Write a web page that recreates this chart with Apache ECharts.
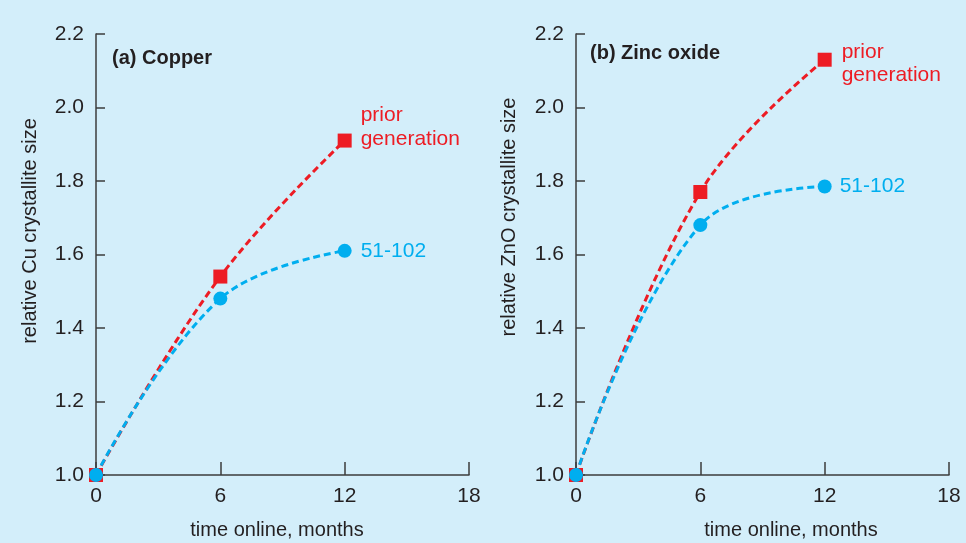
<!DOCTYPE html>
<html>
<head>
<meta charset="utf-8">
<script src="https://cdn.jsdelivr.net/npm/echarts@6/dist/echarts.min.js"></script>
<style>
html,body{margin:0;padding:0;background:#d3eefa;}
#chart{width:966px;height:543px;}
</style>
</head>
<body>
<div id="chart"></div>
<script>
const months = [0, 6, 12];
const cuPrior = [1.0, 1.54, 1.91];
const cu51 = [1.0, 1.48, 1.61];
const znoPrior = [1.0, 1.77, 2.13];
const zno51 = [1.0, 1.68, 1.785];
const xTicks = [0, 6, 12, 18];
const yTicks = [1.0, 1.2, 1.4, 1.6, 1.8, 2.0, 2.2];
const panelTitles = ['(a) Copper', '(b) Zinc oxide'];
const yNames = ['relative Cu crystallite size', 'relative ZnO crystallite size'];
const xName = 'time online, months';
const priorName = 'prior\ngeneration';
const newName = '51-102';

const RED = '#ed1c24', BLUE = '#00aeef', INK = '#231f20', AX = '#3c3c3c';
const FONT = 'Liberation Sans, Arial, sans-serif';

function mkData(xs, ys, label) {
  return xs.map((x, i) => {
    const d = { value: [x, ys[i]] };
    if (i === xs.length - 1) d.label = Object.assign({ show: true }, label);
    return d;
  });
}

function xAxis(gi) {
  return {
    type: 'value', gridIndex: gi, min: xTicks[0], max: xTicks[xTicks.length - 1], interval: 6,
    axisLine: { show: true, lineStyle: { color: AX, width: 1.5 } },
    axisTick: { show: true, inside: true, length: 13, lineStyle: { color: AX, width: 1.5 } },
    axisLabel: { color: INK, fontSize: 21, fontFamily: FONT, margin: 11 },
    splitLine: { show: false }
  };
}
function yAxis(gi) {
  return {
    type: 'value', gridIndex: gi, min: yTicks[0], max: yTicks[yTicks.length - 1], interval: 0.2,
    axisLine: { show: true, lineStyle: { color: AX, width: 1.5 } },
    axisTick: { show: true, inside: true, length: 9, lineStyle: { color: AX, width: 1.5 } },
    axisLabel: { color: INK, fontSize: 21, fontFamily: FONT, margin: 12, formatter: v => v.toFixed(1) },
    splitLine: { show: false }
  };
}
function lineSeries(gi, data, color, symbol, label) {
  return {
    type: 'line', xAxisIndex: gi, yAxisIndex: gi, smooth: 0.4,
    symbol: symbol, symbolSize: 14, showAllSymbol: true,
    itemStyle: { color: color },
    lineStyle: { color: color, width: 3, type: [7, 4] },
    data: mkData(months, data, label),
    z: symbol === 'circle' ? 3 : 2,
    animation: false
  };
}
const lblBase = { position: 'right', fontSize: 21, fontFamily: FONT, lineHeight: 24 };

const chart = echarts.init(document.getElementById('chart'));
chart.setOption({
  backgroundColor: '#d3eefa',
  animation: false,
  grid: [
    { left: 96, top: 34, width: 373, bottom: 68 },
    { left: 576, top: 34, width: 373, bottom: 68 }
  ],
  xAxis: [xAxis(0), xAxis(1)],
  yAxis: [yAxis(0), yAxis(1)],
  series: [
    lineSeries(0, cuPrior, RED, 'rect', Object.assign({}, lblBase, { color: RED, formatter: priorName, distance: 9, offset: [0, -13] })),
    lineSeries(0, cu51, BLUE, 'circle', Object.assign({}, lblBase, { color: BLUE, formatter: newName, distance: 9 })),
    lineSeries(1, znoPrior, RED, 'rect', Object.assign({}, lblBase, { color: RED, formatter: priorName, distance: 10, lineHeight: 23, offset: [0, 4] })),
    lineSeries(1, zno51, BLUE, 'circle', Object.assign({}, lblBase, { color: BLUE, formatter: newName, distance: 8 }))
  ],
  graphic: [
    { type: 'text', left: 112, top: 48, style: { text: panelTitles[0], font: 'bold 20px ' + FONT, fill: INK } },
    { type: 'text', left: 590, top: 43, style: { text: panelTitles[1], font: 'bold 20px ' + FONT, fill: INK } },
    { type: 'text', x: 30, y: 231, rotation: Math.PI / 2, style: { text: yNames[0], font: '20px ' + FONT, fill: INK, align: 'center', verticalAlign: 'middle' } },
    { type: 'text', x: 509, y: 217, rotation: Math.PI / 2, style: { text: yNames[1], font: '20px ' + FONT, fill: INK, align: 'center', verticalAlign: 'middle' } },
    { type: 'text', x: 277, y: 530, style: { text: xName, font: '20px ' + FONT, fill: INK, align: 'center', verticalAlign: 'middle' } },
    { type: 'text', x: 791, y: 530, style: { text: xName, font: '20px ' + FONT, fill: INK, align: 'center', verticalAlign: 'middle' } }
  ]
});
</script>
</body>
</html>
